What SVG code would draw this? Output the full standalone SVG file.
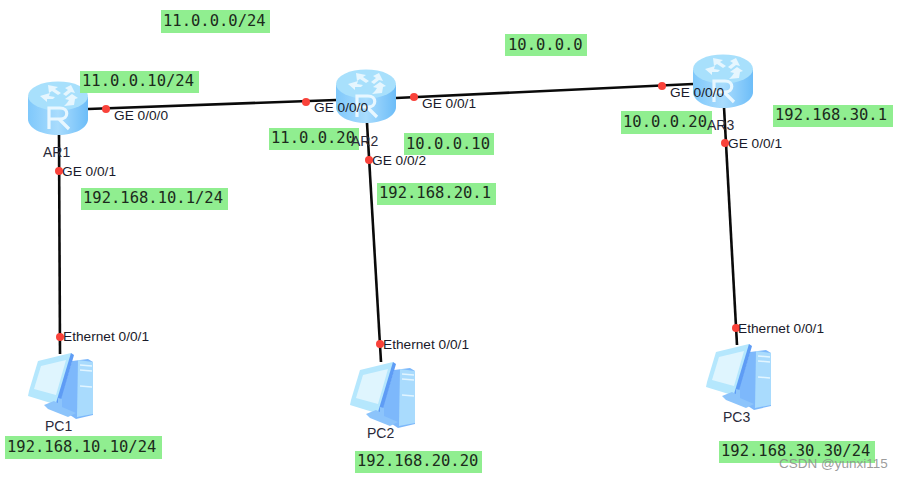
<svg xmlns="http://www.w3.org/2000/svg" xmlns:xlink="http://www.w3.org/1999/xlink" width="900" height="480" viewBox="0 0 900 480">
<style>
.lnk{stroke:#0a0a0a;stroke-width:2.6;fill:none}
.dot{fill:#f9423a}
.port{font:13.7px "Liberation Sans",Arial,sans-serif;fill:#1a1a2a}
.name{font:14px "Liberation Sans",Arial,sans-serif;fill:#2a2a3a}
.tag{fill:#90ee90}
.ip{font:15.5px "DejaVu Sans Mono",monospace;fill:#1c2a1c}
.wm{font:13.5px "Liberation Sans",Arial,sans-serif;fill:#8a8a8a;fill-opacity:.85}
</style>
<defs>
<linearGradient id="rb" x1="0" x2="1" y1="0" y2="0"><stop offset="0" stop-color="#7fc8fb"/><stop offset=".5" stop-color="#a9dcfd"/><stop offset="1" stop-color="#6dbdf8"/></linearGradient>
<g id="router">
<path d="M0 16V38C0 47 13 54 30 54S60 47 60 38V16Z" fill="url(#rb)"/>
<ellipse cx="30" cy="15" rx="30" ry="14.5" fill="#a8e0fc"/>
<g fill="#e6f6fe">
<path d="M20 4L30 6L27 8L33 12L30 14L24 10L21 12Z"/>
<path d="M43 4L47 12L43 11L38 15L35 13L40 9L37 7Z"/>
<path d="M12 15L22 12L21 15L27 16L25 18L19 18L19 21Z"/>
<path d="M44 13L50 17L47 18L46 24L36 25L39 22L41 19L37 18Z"/>
</g>
<path d="M21 48V27H32C41 27 41 38 32 38H21M31 38L41 48" fill="none" stroke="#e8f7ff" stroke-width="3.2"/>
</g>
<g id="pc">
<path d="M44 8L60 6L65 9L65 62L48 66L30 54Z" fill="#7db8fb"/>
<path d="M50 7L65 9V61L49 64Z" fill="#a9dbfd"/>
<path d="M52 12L64 13M52 17L64 18M52 33L64 34" stroke="#e2f5ff" stroke-width="1.5"/>
<path d="M10 8L43 0L44 3L32 48L26 51L0 43L1 38Z" fill="#b5e7fd"/>
<path d="M43 0L46 2L32 50L28 50Z" fill="#5e9cf5"/>
<path d="M13 13L38 7L28 42L6 36Z" fill="#dff5fe"/>
<path d="M16 52L26 48L30 50L30 45L34 46L34 54L48 60L40 64L20 56Z" fill="#8cc4fb"/>
</g>
</defs>
<rect width="900" height="480" fill="#fff"/>
<g id="connectors">
<path class="lnk" d="M88 109L336 100"/>
<path class="lnk" d="M396 98L693 84"/>
<path class="lnk" d="M59 134L60 354"/>
<path class="lnk" d="M367 123L381 362"/>
<path class="lnk" d="M724 107L737 345"/>
</g>
<g id="AR1"><use xlink:href="#router" href="#router" x="28" y="81"/><text class="name" x="43" y="157">AR1</text></g>
<g id="AR2"><use xlink:href="#router" href="#router" x="336" y="69"/></g>
<g id="AR3"><use xlink:href="#router" href="#router" x="693" y="54"/></g>
<g id="PC1"><use xlink:href="#pc" href="#pc" x="28" y="353"/><text class="name" x="45" y="431">PC1</text></g>
<g id="PC2"><use xlink:href="#pc" href="#pc" x="350" y="362"/><text class="name" x="367" y="438">PC2</text></g>
<g id="PC3"><use xlink:href="#pc" href="#pc" x="706" y="344"/><text class="name" x="723" y="422">PC3</text></g>
<g id="labels">
<rect class="tag" x="161" y="10" width="109" height="23"/><text class="ip" x="163" y="26">11.0.0.0/24</text>
<rect class="tag" x="80" y="71" width="119" height="22"/><text class="ip" x="82" y="86">11.0.0.10/24</text>
<rect class="tag" x="81" y="188" width="147" height="22"/><text class="ip" x="83" y="203">192.168.10.1/24</text>
<rect class="tag" x="269" y="128" width="90" height="22"/><text class="ip" x="271" y="143">11.0.0.20</text>
<rect class="tag" x="404" y="133" width="90" height="22"/><text class="ip" x="406" y="149">10.0.0.10</text>
<rect class="tag" x="377" y="183" width="119" height="22"/><text class="ip" x="379" y="198">192.168.20.1</text>
<rect class="tag" x="505" y="34" width="82" height="22"/><text class="ip" x="508" y="50">10.0.0.0</text>
<rect class="tag" x="621" y="111" width="91" height="23"/><text class="ip" x="623" y="127">10.0.0.20</text>
<rect class="tag" x="773" y="105" width="120" height="22"/><text class="ip" x="775" y="120">192.168.30.1</text>
<rect class="tag" x="5" y="436" width="157" height="23"/><text class="ip" x="7" y="452">192.168.10.10/24</text>
<rect class="tag" x="355" y="451" width="127" height="22"/><text class="ip" x="357" y="466">192.168.20.20</text>
<rect class="tag" x="719" y="441" width="156" height="22"/><text class="ip" x="721" y="456">192.168.30.30/24</text>
</g>
<g id="ports">
<circle class="dot" cx="106" cy="109" r="4"/><text class="port" x="114" y="120">GE 0/0/0</text>
<circle class="dot" cx="59" cy="171" r="4"/><text class="port" x="62" y="176">GE 0/0/1</text>
<circle class="dot" cx="306" cy="102" r="4"/><text class="port" x="314" y="112">GE 0/0/0</text>
<circle class="dot" cx="414" cy="97" r="4"/><text class="port" x="422" y="108">GE 0/0/1</text>
<circle class="dot" cx="369" cy="160" r="4"/><text class="port" x="372" y="165">GE 0/0/2</text>
<circle class="dot" cx="662" cy="86" r="4"/><text class="port" x="670" y="97">GE 0/0/0</text>
<circle class="dot" cx="725" cy="143" r="4"/><text class="port" x="728" y="148">GE 0/0/1</text>
<circle class="dot" cx="60" cy="337" r="4"/><text class="port" x="63" y="341">Ethernet 0/0/1</text>
<circle class="dot" cx="380" cy="344" r="4"/><text class="port" x="383" y="349">Ethernet 0/0/1</text>
<circle class="dot" cx="736" cy="328" r="4"/><text class="port" x="738" y="333">Ethernet 0/0/1</text>
</g>
<text class="name" x="351" y="146">AR2</text>
<text class="name" x="707" y="130">AR3</text>
<text class="wm" x="779" y="468">CSDN @yunxi115</text>
</svg>
